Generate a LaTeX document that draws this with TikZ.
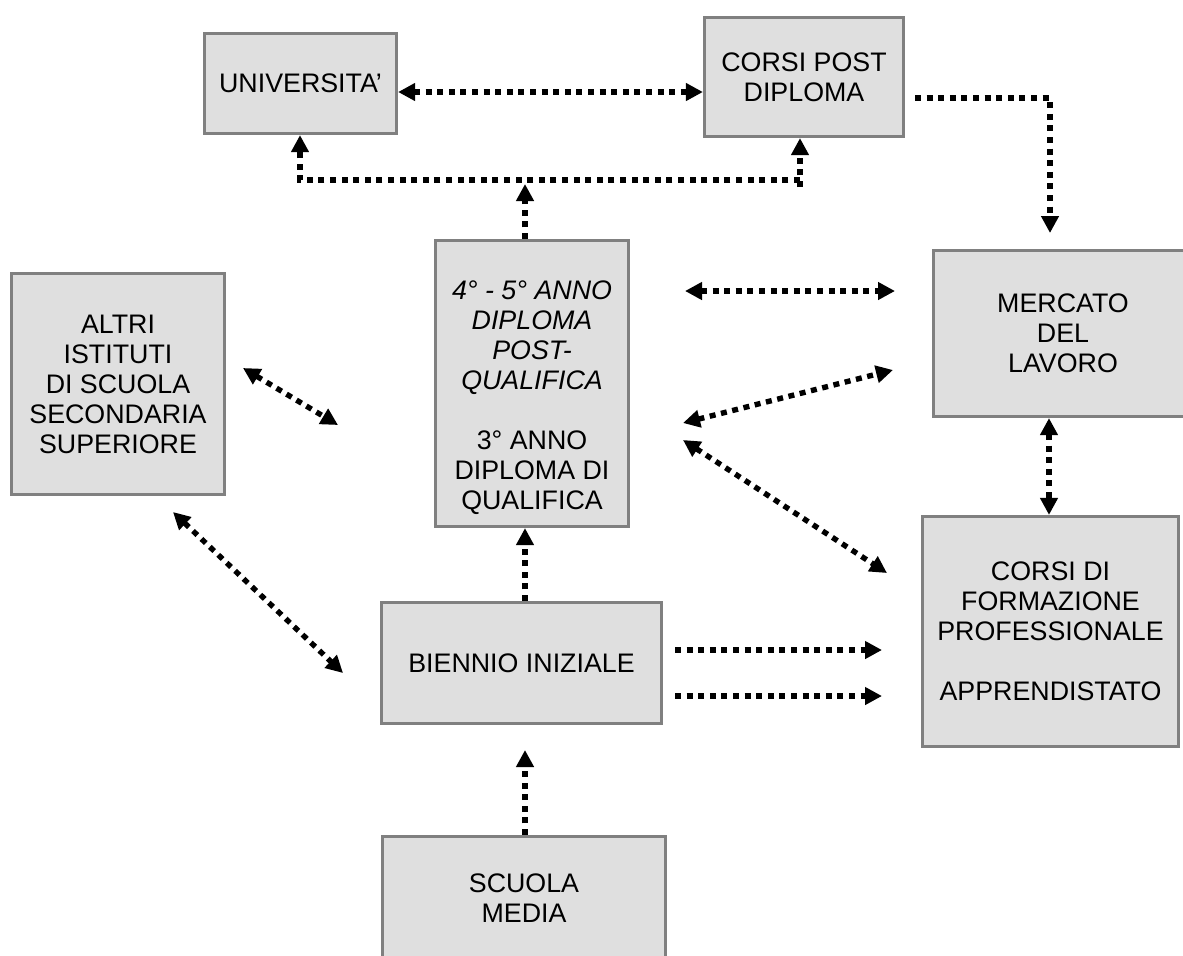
\documentclass[tikz,border=0pt]{standalone}
\usepackage{fontspec}
\setmainfont{Liberation Sans}
\usetikzlibrary{arrows.meta}
\definecolor{boxfill}{HTML}{DFDFDF}
\definecolor{boxline}{HTML}{808080}
\tikzset{
  box/.style={draw=boxline, fill=boxfill, line width=1.6pt, align=center, inner sep=0pt,
    font=\fontsize{13.4pt}{15pt}\selectfont},
  txt/.style={align=center, inner sep=0pt, font=\fontsize{13.4pt}{15pt}\selectfont},
  con/.style={line width=2.7pt, dash pattern=on 3pt off 2.8pt, line cap=butt},
  onetip/.style={-{Triangle[length=8.5pt,width=8.5pt]}},
  twotips/.style={{Triangle[length=8.5pt,width=8.5pt]}-{Triangle[length=8.5pt,width=8.5pt]}},
}
\begin{document}
\begin{tikzpicture}[x=0.5pt,y=-0.5pt]
\useasboundingbox (0,0) rectangle (1183,955);
\begin{scope}
\clip (0,0) rectangle (1183,955);
% boxes
\node[box, minimum width=96pt, minimum height=50pt] (univ) at (300.5,83.5) {UNIVERSITA’};
\node[box, minimum width=99.5pt, minimum height=59.5pt] (cpd) at (804,77) {CORSI POST\\DIPLOMA};
\node[box, minimum width=96.5pt, minimum height=143pt] (q45) at (532,383.5) {};
\node[txt] (q45t) at (532,398) {\itshape 4° - 5° ANNO\\\itshape DIPLOMA\\\itshape POST-\\\itshape QUALIFICA\\[15pt]3° ANNO\\DIPLOMA DI\\QUALIFICA};
\node[box, minimum width=106.5pt, minimum height=110.5pt] (altri) at (118,384) {ALTRI\\ISTITUTI\\DI SCUOLA\\SECONDARIA\\SUPERIORE};
\node[box, minimum width=129.5pt, minimum height=83pt] (merc) at (1063,333.5) {MERCATO\\DEL\\LAVORO};
\node[box, minimum width=128pt, minimum height=115pt] (cdf) at (1050.5,631.5) {CORSI DI\\FORMAZIONE\\PROFESSIONALE\\[15pt]APPRENDISTATO};
\node[box, minimum width=140pt, minimum height=60.5pt] (bien) at (521.5,663) {BIENNIO INIZIALE};
\node[box, minimum width=141.5pt, minimum height=61.5pt] (smed) at (524,898) {SCUOLA\\MEDIA};
\end{scope}
% free ends
\coordinate (c1) at (525,184);
\coordinate (c2a) at (800,187);
\coordinate (c2b) at (800,180);
\coordinate (c3) at (915,98);
\coordinate (c4) at (1050,233);
\coordinate (c5a) at (685,291);
\coordinate (c5b) at (895,291);
\coordinate (c6a) at (683,423);
\coordinate (c6b) at (893,370);
\coordinate (c7a) at (683,440);
\coordinate (c7b) at (887,573);
\coordinate (c8a) at (243,368);
\coordinate (c8b) at (338,425);
\coordinate (c9a) at (173,512);
\coordinate (c9b) at (343,673);
\coordinate (c10) at (525,750);
\coordinate (c11a) at (675,650);
\coordinate (c11b) at (882,650);
\coordinate (c12a) at (675,696);
\coordinate (c12b) at (882,696);
\coordinate (xv) at (525,0);
\coordinate (xu) at (300,180);
\coordinate (xm) at (1049,0);
\coordinate (y92) at (0,92);
% connectors
\draw[con,twotips] (univ.east |- y92) -- (cpd.west |- y92);
\draw[con,onetip] (q45.north -| xv) -- (c1);
\draw[con,onetip] (c2a) -- (cpd.south -| c2a);
\draw[con,onetip] (c2b) -- (xu) -- (univ.south -| xu);
\draw[con,onetip] (c3) -| (c4);
\draw[con,twotips] (c5a) -- (c5b);
\draw[con,twotips] (c6a) -- (c6b);
\draw[con,twotips] (c7a) -- (c7b);
\draw[con,twotips] (c8a) -- (c8b);
\draw[con,twotips] (c9a) -- (c9b);
\draw[con,onetip] (bien.north -| xv) -- (q45.south -| xv);
\draw[con,onetip] (smed.north -| xv) -- (c10);
\draw[con,onetip] (c11a) -- (c11b);
\draw[con,onetip] (c12a) -- (c12b);
\draw[con,twotips] (merc.south -| xm) -- (cdf.north -| xm);
\end{tikzpicture}
\end{document}
